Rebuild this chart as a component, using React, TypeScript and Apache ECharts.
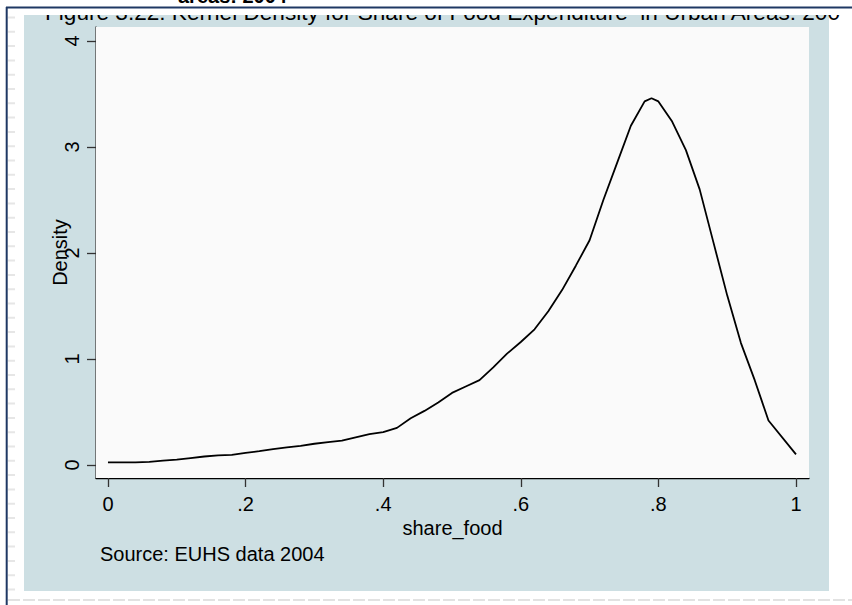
import React, { useEffect, useRef } from "react";
import * as echarts from "echarts";

const shareFood = [0, 0.02, 0.04, 0.06, 0.08, 0.1, 0.12, 0.14, 0.16, 0.18, 0.2, 0.22, 0.24, 0.26, 0.28, 0.3, 0.32, 0.34, 0.36, 0.38, 0.4, 0.42, 0.44, 0.46, 0.48, 0.5, 0.52, 0.54, 0.56, 0.58, 0.6, 0.62, 0.64, 0.66, 0.68, 0.7, 0.72, 0.74, 0.76, 0.78, 0.79, 0.8, 0.82, 0.84, 0.86, 0.88, 0.9, 0.92, 0.94, 0.96, 1.0];
const density = [0.025, 0.025, 0.025, 0.03, 0.04, 0.05, 0.065, 0.08, 0.09, 0.095, 0.115, 0.13, 0.15, 0.165, 0.18, 0.2, 0.215, 0.23, 0.26, 0.29, 0.31, 0.35, 0.44, 0.51, 0.59, 0.68, 0.74, 0.8, 0.92, 1.05, 1.16, 1.28, 1.45, 1.65, 1.88, 2.12, 2.5, 2.85, 3.2, 3.43, 3.46, 3.43, 3.24, 2.97, 2.6, 2.1, 1.6, 1.15, 0.8, 0.42, 0.1];
const xTicks = [0, 0.2, 0.4, 0.6, 0.8, 1];
const yTicks = [0, 1, 2, 3, 4];

const titleText = "Figure 3.22: Kernel Density for Share of Food Expenditure  in Urban Areas: 200";
const captionText = "areas: 2004";
const sourceText = "Source: EUHS data 2004";
const xName = "share_food";
const yName = "Density";

const FONT = "'Liberation Sans', Arial, sans-serif";

export default function App() {
  const ref = useRef<HTMLDivElement>(null);
  useEffect(() => {
    if (!ref.current) return;
    const chart = echarts.init(ref.current, undefined, { renderer: "svg" });
    const fmt = (v: number) => {
      if (v === 0) return "0";
      if (v === 1) return "1";
      return String(Math.round(v * 10) / 10).replace(/^0/, "");
    };
    chart.setOption({
      animation: false,
      backgroundColor: "#ffffff",
      textStyle: { fontFamily: FONT },
      grid: {
        left: 96,
        top: 27,
        width: 713,
        height: 451,
        show: true,
        backgroundColor: "#fafafa",
        borderWidth: 0,
        z: 2,
      },
      xAxis: {
        type: "value",
        min: -0.0174,
        max: 1.0189,
        name: xName,
        nameLocation: "middle",
        nameGap: 40,
        nameMoveOverlap: false,
        nameTextStyle: { fontSize: 20, color: "#000", fontFamily: FONT },
        axisLine: { onZero: false, lineStyle: { color: "#000", width: 1.3 } },
        axisTick: { show: true, length: 9, customValues: xTicks, lineStyle: { color: "#333", width: 1.3 } },
        axisLabel: { customValues: xTicks, formatter: fmt, fontSize: 20, color: "#000", margin: 16, fontFamily: FONT },
        splitLine: { show: false },
      },
      yAxis: {
        type: "value",
        min: -0.123,
        max: 4.132,
        name: yName,
        nameLocation: "middle",
        nameRotate: 90,
        nameGap: 26,
        nameMoveOverlap: false,
        nameTextStyle: { fontSize: 20, color: "#000", fontFamily: FONT },
        axisLine: { show: true, onZero: false, lineStyle: { color: "#555", width: 1.5 } },
        axisTick: { show: true, length: 9, customValues: yTicks, lineStyle: { color: "#333", width: 1.3 } },
        axisLabel: { customValues: yTicks, rotate: 90, fontSize: 20, color: "#000", margin: 14, fontFamily: FONT, formatter: (v: number) => String(v) },
        splitLine: { show: true, lineStyle: { color: "#d3e2e5", width: 1.6 } },
      },
      series: [
        {
          type: "line",
          data: shareFood.map((x, i) => [x, density[i]]),
          showSymbol: false,
          smooth: false,
          lineStyle: { color: "#000", width: 1.8 },
          z: 5,
        },
      ],
      graphic: [
        { type: "rect", z: -100, shape: { x: 24, y: 15, width: 805, height: 576 }, style: { fill: "#cddfe3" }, silent: true },
        { type: "line", z: -90, shape: { x1: 11.5, y1: 16.5, x2: 11.5, y2: 598 }, style: { stroke: "#e6e6e6", lineWidth: 7, lineDash: [2, 12.3] }, silent: true },
        { type: "line", z: -90, shape: { x1: 8, y1: 600, x2: 852, y2: 600 }, style: { stroke: "#e2e2e2", lineWidth: 2, lineDash: [12, 3] }, silent: true },
        { type: "text", z: 100, x: 100, y: 544, style: { text: sourceText, fontSize: 20, fill: "#000", fontFamily: FONT, verticalAlign: "top" }, silent: true },
        { type: "text", z: 100, x: 45, y: 0.5, style: { text: titleText, fontSize: 22.6, fill: "#000", fontFamily: FONT, verticalAlign: "top" }, silent: true },
        { type: "rect", z: 101, shape: { x: 0, y: 3.5, width: 852, height: 11.5 }, style: { fill: "#ffffff" }, silent: true },
        { type: "text", z: 102, x: 178, y: -14, style: { text: captionText, fontSize: 20, fontWeight: "bold", fill: "#000", fontFamily: FONT, verticalAlign: "top" }, silent: true },
        { type: "line", z: 103, shape: { x1: 6, y1: 7.5, x2: 852, y2: 7.5 }, style: { stroke: "#1f3864", lineWidth: 2 }, silent: true },
        { type: "line", z: 103, shape: { x1: 6.7, y1: 7, x2: 6.7, y2: 605 }, style: { stroke: "#1f3864", lineWidth: 2 }, silent: true },
      ],
    });
    return () => chart.dispose();
  }, []);
  return (
    <div
      ref={ref}
      style={{ position: "fixed", left: 0, top: 0, width: 852, height: 605 }}
    />
  );
}
